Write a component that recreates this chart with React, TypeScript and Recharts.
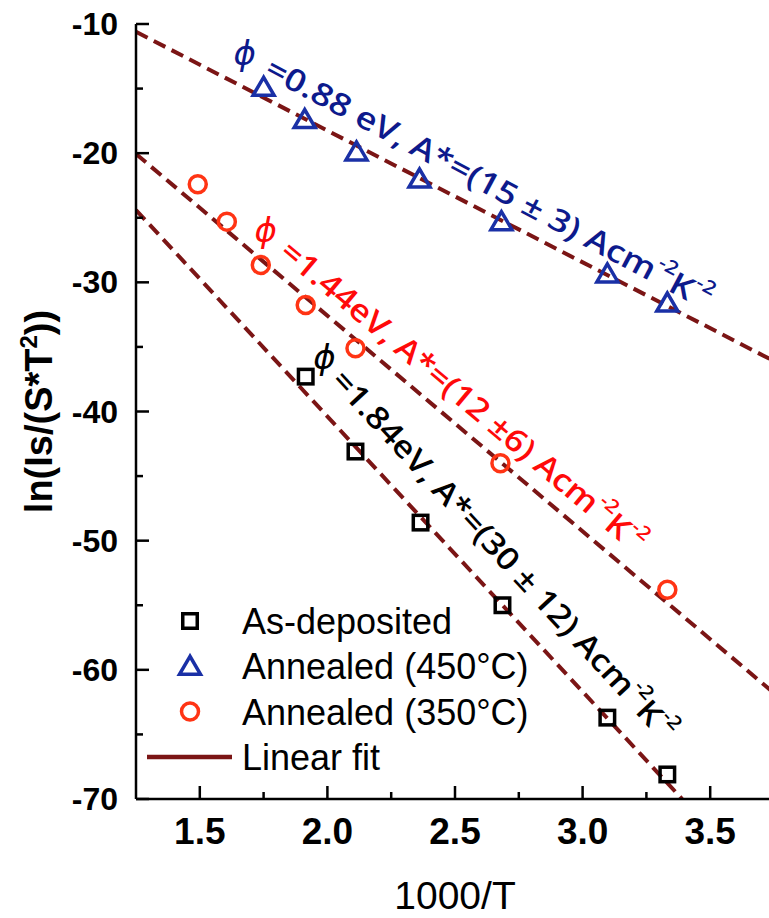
import React from "react";
import {
  ComposedChart,
  XAxis,
  YAxis,
  Scatter,
  Line,
  Legend,
  ReferenceDot,
  Label,
} from "recharts";

const xTicks = [1.5, 1.75, 2, 2.25, 2.5, 2.75, 3, 3.25, 3.5];
const yTicks = [-70, -65, -60, -55, -50, -45, -40, -35, -30, -25, -20, -15, -10];

const asDeposited = [
  { x: 1.915, y: -37.3 },
  { x: 2.11, y: -43.1 },
  { x: 2.365, y: -48.6 },
  { x: 2.686, y: -55.0 },
  { x: 3.097, y: -63.7 },
  { x: 3.332, y: -68.1 },
];
const annealed450 = [
  { x: 1.75, y: -14.9 },
  { x: 1.911, y: -17.4 },
  { x: 2.114, y: -19.9 },
  { x: 2.361, y: -22.0 },
  { x: 2.682, y: -25.3 },
  { x: 3.097, y: -29.35 },
  { x: 3.332, y: -31.6 },
];
const annealed350 = [
  { x: 1.492, y: -22.4 },
  { x: 1.606, y: -25.3 },
  { x: 1.739, y: -28.65 },
  { x: 1.915, y: -31.75 },
  { x: 2.11, y: -35.1 },
  { x: 2.678, y: -44.0 },
  { x: 3.332, y: -53.8 },
];
// fitted lines, end points
const fit450 = [
  { x: 1.25, y: -10.6 },
  { x: 3.75, y: -36.1 },
];
const fit350 = [
  { x: 1.25, y: -20.06 },
  { x: 3.75, y: -61.8 },
];
const fitAsDep = [
  { x: 1.25, y: -24.4 },
  { x: 3.39, y: -70 },
];

const FIT = "#7b1515";
const BLUE = "#1a30a6";
const RED = "#ff3414";
const AXIS_FONT = "'Liberation Sans', Arial, sans-serif";
const NOTE_FONT = "'Open Sans', 'DejaVu Sans', sans-serif";

type Kind = "square" | "triangle" | "circle" | "line";

const SERIES: { name: string; kind: Kind; color: string }[] = [
  { name: "As-deposited", kind: "square", color: "#000" },
  { name: "Annealed (450°C)", kind: "triangle", color: BLUE },
  { name: "Annealed (350°C)", kind: "circle", color: RED },
  { name: "Linear fit", kind: "line", color: FIT },
];

function marker(kind: Kind, cx: number, cy: number, color: string) {
  if (kind === "square")
    return (
      <rect x={cx - 7.25} y={cy - 7.25} width={14.5} height={14.5} fill="none" stroke={color} strokeWidth={3.5} />
    );
  if (kind === "triangle")
    return (
      <polygon
        points={`${cx},${cy - 10} ${cx - 10.5},${cy + 8} ${cx + 10.5},${cy + 8}`}
        fill="none"
        stroke={color}
        strokeWidth={3.5}
      />
    );
  if (kind === "circle")
    return <circle cx={cx} cy={cy} r={8.5} fill="none" stroke={color} strokeWidth={3.5} />;
  return <line x1={cx - 43} y1={cy} x2={cx + 42} y2={cy} stroke={color} strokeWidth={4.5} />;
}

const isMajorX = (v: number) => Math.abs(v * 2 - Math.round(v * 2)) < 1e-6;
const isMajorY = (v: number) => Math.abs(v % 10) < 1e-6;

const BottomTick = ({ x, y, payload }: any) => {
  const major = isMajorX(payload.value);
  return (
    <g>
      <line x1={x} y1={y} x2={x} y2={y - (major ? 13 : 7)} stroke="#000" strokeWidth={2.5} />
      {major && (
        <text x={x} y={y + 45} textAnchor="middle" fontSize={37} fontWeight="bold" fontFamily={AXIS_FONT} fill="#000">
          {payload.value.toFixed(1)}
        </text>
      )}
    </g>
  );
};

const TopTick = ({ x, y, payload }: any) => (
  <line x1={x} y1={y} x2={x} y2={y + (isMajorX(payload.value) ? 13 : 7)} stroke="#000" strokeWidth={2.5} />
);

const LeftTick = ({ x, y, payload }: any) => {
  const major = isMajorY(payload.value);
  return (
    <g>
      <line x1={x} y1={y} x2={x + (major ? 13 : 7)} y2={y} stroke="#000" strokeWidth={2.5} />
      {major && (
        <text x={x - 18} y={y + 11} textAnchor="end" fontSize={32} fontWeight="bold" fontFamily={AXIS_FONT} fill="#000">
          {payload.value}
        </text>
      )}
    </g>
  );
};

const RightTick = ({ x, y, payload }: any) => (
  <line x1={x} y1={y} x2={x - (isMajorY(payload.value) ? 13 : 7)} y2={y} stroke="#000" strokeWidth={2.5} />
);

const LegendBox = () => (
  <svg width={420} height={190}>
    {SERIES.map((s, i) => {
      const cy = 26 + i * 45.3;
      return (
        <g key={s.name}>
          {marker(s.kind, 50, cy, s.color)}
          <text x={102} y={cy + 13} fontSize={36} fontFamily={AXIS_FONT} fill="#000">
            {s.name}
          </text>
        </g>
      );
    })}
  </svg>
);

const YTitle = ({ viewBox }: any) => {
  const cy = viewBox.y + viewBox.height / 2;
  return (
    <text transform={`translate(44, ${cy}) rotate(-90)`} textAnchor="middle" fontSize={38} fontWeight="bold" fontFamily={AXIS_FONT} fill="#000">
      ln(Is/(S*T
      <tspan fontSize={24} dy={-15}>2</tspan>
      <tspan dy={15}>))</tspan>
    </text>
  );
};

// rotated annotations, anchored in data coordinates
const NOTES = [
  { phiX: 1.676, phiY: -12.17, x: 1.77, y: -13.17, angle: 28, len: 500, color: "#0d1a8c", num: "=0.88 eV, A*=(15 ± 3) Acm" },
  { phiX: 1.758, phiY: -25.87, x: 1.837, y: -27.18, angle: 40, len: 465, color: "#ff0a0a", num: "=1.44eV, A*=(12 ±6) Acm" },
  { phiX: 1.989, phiY: -35.7, x: 2.044, y: -37.09, angle: 47.3, len: 490, color: "#000", num: "=1.84eV, A*=(30 ± 12) Acm" },
];

export default function App() {
  return (
    <div style={{ position: "absolute", left: 8, top: 0, width: 761, height: 918, overflow: "hidden" }}>
      <ComposedChart width={770} height={918} margin={{ top: 24, right: 4, left: 0, bottom: 0 }}>
        <XAxis
          dataKey="x"
          type="number"
          domain={[1.25, 3.75]}
          ticks={xTicks}
          interval={0}
          height={119}
          tickSize={0}
          tickMargin={0}
          tick={<BottomTick />}
          axisLine={{ stroke: "#000", strokeWidth: 2.5 }}
          allowDataOverflow
        >
          <Label
            value="1000/T"
            position="insideBottom"
            offset={9}
            style={{ fontSize: 39, fontFamily: AXIS_FONT, fill: "#000" }}
          />
        </XAxis>
        <XAxis
          xAxisId="top"
          orientation="top"
          dataKey="x"
          type="number"
          domain={[1.25, 3.75]}
          ticks={xTicks}
          interval={0}
          height={0}
          tickSize={0}
          tickMargin={0}
          tick={<TopTick />}
          axisLine={{ stroke: "#000", strokeWidth: 2.5 }}
          allowDataOverflow
        />
        <YAxis
          type="number"
          domain={[-70, -10]}
          ticks={yTicks}
          interval={0}
          width={128}
          tickSize={0}
          tickMargin={0}
          tick={<LeftTick />}
          axisLine={{ stroke: "#000", strokeWidth: 2.5 }}
          allowDataOverflow
        >
          <Label content={<YTitle />} />
        </YAxis>
        <YAxis
          yAxisId="right"
          orientation="right"
          type="number"
          domain={[-70, -10]}
          ticks={yTicks}
          interval={0}
          width={0}
          tickSize={0}
          tickMargin={0}
          tick={<RightTick />}
          axisLine={{ stroke: "#000", strokeWidth: 2.5 }}
          allowDataOverflow
        />
        {[fit450, fit350, fitAsDep].map((fit, i) => (
          <Line
            key={i}
            data={fit}
            dataKey="y"
            type="linear"
            stroke={FIT}
            strokeWidth={4}
            strokeDasharray="13 7"
            dot={false}
            activeDot={false}
            legendType="none"
            isAnimationActive={false}
          />
        ))}
        <Scatter
          data={asDeposited}
          dataKey="y"
          isAnimationActive={false}
          shape={(p: any) => marker("square", p.cx, p.cy, "#000")}
        />
        <Scatter
          data={annealed450}
          dataKey="y"
          isAnimationActive={false}
          shape={(p: any) => marker("triangle", p.cx, p.cy, BLUE)}
        />
        <Scatter
          data={annealed350}
          dataKey="y"
          isAnimationActive={false}
          shape={(p: any) => marker("circle", p.cx, p.cy, RED)}
        />
        {NOTES.map((n, i) => (
          <ReferenceDot
            key={"phi" + i}
            x={n.phiX}
            y={n.phiY}
            r={0}
            ifOverflow="visible"
            shape={(p: any) => (
              <text x={p.cx} y={p.cy} textAnchor="middle" dominantBaseline="central" fontSize={34} fontStyle="italic" fontFamily={NOTE_FONT} fill={n.color}>
                ϕ
              </text>
            )}
          />
        ))}
        {NOTES.map((n, i) => (
          <ReferenceDot
            key={"note" + i}
            x={n.x}
            y={n.y}
            r={0}
            ifOverflow="visible"
            shape={(p: any) => (
              <text
                x={p.cx}
                y={p.cy}
                transform={`rotate(${n.angle} ${p.cx} ${p.cy})`}
                dominantBaseline="central"
                fontSize={31}
                fontWeight={600}
                fontFamily={NOTE_FONT}
                fill={n.color}
                textLength={n.len}
                lengthAdjust="spacingAndGlyphs"
              >
                {n.num}
                <tspan fontSize={19} dy={-11}>-2</tspan>
                <tspan dy={11}>K</tspan>
                <tspan fontSize={19} dy={-11}>-2</tspan>
              </text>
            )}
          />
        ))}
        <Legend
          layout="vertical"
          align="center"
          verticalAlign="middle"
          content={<LegendBox />}
          wrapperStyle={{ left: 132, top: 595, width: 420, height: 190 }}
        />
      </ComposedChart>
    </div>
  );
}
